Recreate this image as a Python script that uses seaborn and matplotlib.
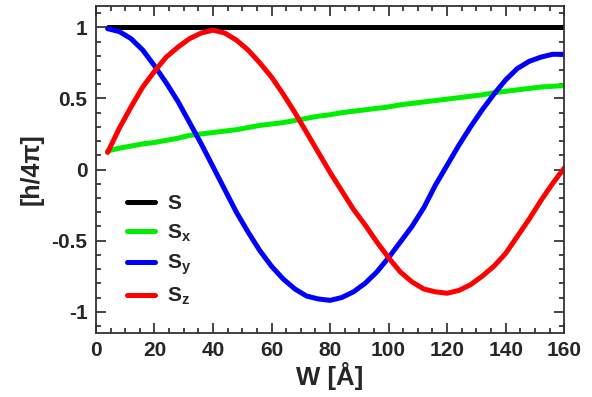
import numpy as np
import pandas as pd
import seaborn as sns
import matplotlib.pyplot as plt
from matplotlib.ticker import MultipleLocator

# values (W in Angstrom)
W = [4, 8, 12, 16, 20, 24, 28, 32, 36, 40, 44, 48, 52, 56, 60, 64, 68, 72, 76, 80,
     84, 88, 92, 96, 100, 104, 108, 112, 116, 120, 124, 128, 132, 136, 140, 144, 148, 152, 156, 160]

S = [1.0] * len(W)

Sx = [0.13, 0.15, 0.165, 0.18, 0.19, 0.205, 0.22, 0.24, 0.25, 0.26,
      0.27, 0.28, 0.295, 0.31, 0.32, 0.33, 0.345, 0.36, 0.375, 0.385,
      0.40, 0.41, 0.42, 0.43, 0.44, 0.455, 0.465, 0.475, 0.485, 0.495,
      0.505, 0.515, 0.525, 0.54, 0.55, 0.56, 0.57, 0.58, 0.585, 0.59]

Sy = [0.99, 0.97, 0.92, 0.84, 0.73, 0.61, 0.48, 0.33, 0.18, 0.02,
      -0.14, -0.30, -0.44, -0.57, -0.68, -0.77, -0.84, -0.89, -0.91, -0.92,
      -0.90, -0.86, -0.80, -0.72, -0.62, -0.51, -0.40, -0.27, -0.11, 0.03,
      0.17, 0.30, 0.42, 0.53, 0.63, 0.71, 0.76, 0.79, 0.81, 0.81]

Sz = [0.12, 0.29, 0.44, 0.58, 0.69, 0.79, 0.86, 0.92, 0.96, 0.98,
      0.96, 0.91, 0.84, 0.75, 0.65, 0.53, 0.40, 0.26, 0.12, -0.02,
      -0.15, -0.28, -0.39, -0.51, -0.62, -0.72, -0.79, -0.84, -0.86, -0.87,
      -0.85, -0.81, -0.75, -0.68, -0.59, -0.47, -0.35, -0.22, -0.10, 0.01]

labels = [r'$\mathbf{S}$', r'$\mathbf{S_x}$', r'$\mathbf{S_y}$', r'$\mathbf{S_z}$']
colors = ['black', '#00ee00', '#0000ff', '#ff0000']

# long form for seaborn
df = pd.concat([
    pd.DataFrame({'W': W, 'value': vals, 'comp': lab})
    for vals, lab in zip([S, Sx, Sy, Sz], labels)
], ignore_index=True)

sns.set_style('ticks')
plt.rcParams['font.family'] = ['Liberation Sans', 'DejaVu Sans']
plt.rcParams['font.weight'] = 'bold'
plt.rcParams['mathtext.fontset'] = 'custom'
plt.rcParams['mathtext.rm'] = 'Liberation Sans:bold'
plt.rcParams['mathtext.bf'] = 'Liberation Sans:bold'
plt.rcParams['mathtext.it'] = 'Liberation Sans:bold'

fig = plt.figure(figsize=(5.92, 3.97), dpi=100)
ax = fig.add_axes([0.162, 0.161, 0.791, 0.824])

sns.lineplot(data=df, x='W', y='value', hue='comp', hue_order=labels,
             palette=dict(zip(labels, colors)), linewidth=3.6, ax=ax)

ax.set_xlim(0, 160)
ax.set_ylim(-1.15, 1.15)
ax.xaxis.set_major_locator(MultipleLocator(20))
ax.xaxis.set_minor_locator(MultipleLocator(5))
ax.yaxis.set_minor_locator(MultipleLocator(0.1))
ax.set_yticks([-1, -0.5, 0, 0.5, 1])
ax.set_yticklabels(['-1', '-0.5', '0', '0.5', '1'])
ax.tick_params(which='both', direction='in', top=True, right=True, labelsize=15, width=1.2)
ax.tick_params(which='major', length=7, pad=6)
ax.tick_params(which='minor', length=3.5)
for sp in ax.spines.values():
    sp.set_linewidth(1.3)
    sp.set_color('#333333')

ax.set_xlabel('W [Å]', fontsize=18.5, fontweight='bold', labelpad=1)
ax.set_ylabel('[h/4π]', fontsize=18, fontweight='bold', labelpad=6)

leg = ax.legend(loc='lower left', bbox_to_anchor=(0.027, 0.021), frameon=False,
                fontsize=15, handlelength=1.35, handletextpad=0.55, labelspacing=0.43)
for line in leg.get_lines():
    line.set_linewidth(3.6)

fig.savefig('out.png', dpi=100)
